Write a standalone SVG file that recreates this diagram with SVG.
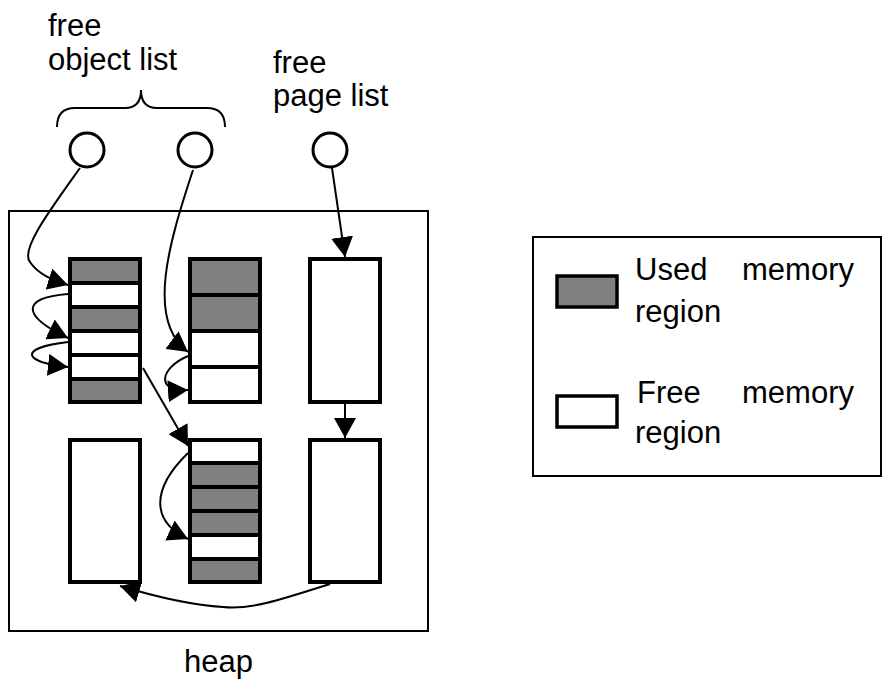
<svg xmlns="http://www.w3.org/2000/svg" width="883" height="682" viewBox="0 0 883 682">
<defs>
<style>
text{font-family:"Liberation Sans",Arial,sans-serif;font-size:31px;fill:#000}
.r{text-anchor:end}
.u{fill:#808080;stroke:#000;stroke-width:4}
.f{fill:#fff;stroke:#000;stroke-width:4}
.c{fill:#fff;stroke:#000;stroke-width:3}
.box{fill:none;stroke:#000;stroke-width:2}
.e{fill:none;stroke:#000;stroke-width:2;marker-end:url(#ah)}
</style>
<marker id="ah" markerUnits="userSpaceOnUse" markerWidth="22" markerHeight="22" viewBox="0 0 22 22" refX="20" refY="11" orient="auto">
<path d="M0,0 L20,11 L0,22 z" fill="#000"/>
</marker>
</defs>
<rect width="883" height="682" fill="#fff"/>
<g id="heap">
<rect class="box" x="9" y="211" width="419" height="420"/>
<text x="184" y="672">heap</text>
</g>
<g id="labels">
<text x="48" y="36">free</text>
<text x="48" y="70">object list</text>
<text x="273" y="73">free</text>
<text x="273" y="106">page list</text>
<path class="box" d="M57,127 Q57,108 75,108 L125,108 Q141,108 141,90 Q141,108 157,108 L207,108 Q225,108 225,127"/>
</g>
<g id="list1"><circle class="c" cx="87" cy="150" r="17"/></g>
<g id="list2"><circle class="c" cx="195" cy="150" r="17"/></g>
<g id="pagelist"><circle class="c" cx="330" cy="150" r="17"/></g>
<g id="page1">
<rect class="u" x="70" y="259" width="70" height="24"/>
<rect class="f" x="70" y="283" width="70" height="24"/>
<rect class="u" x="70" y="307" width="70" height="24"/>
<rect class="f" x="70" y="331" width="70" height="24"/>
<rect class="f" x="70" y="355" width="70" height="24"/>
<rect class="u" x="70" y="379" width="70" height="23"/>
</g>
<g id="page2">
<rect class="u" x="190" y="259" width="70" height="36"/>
<rect class="u" x="190" y="295" width="70" height="36"/>
<rect class="f" x="190" y="331" width="70" height="36"/>
<rect class="f" x="190" y="367" width="70" height="35"/>
</g>
<g id="page3"><rect class="f" x="310" y="259" width="70" height="143"/></g>
<g id="page4"><rect class="f" x="70" y="440" width="70" height="142"/></g>
<g id="page5">
<rect class="f" x="190" y="440" width="70" height="23"/>
<rect class="u" x="190" y="463" width="70" height="24"/>
<rect class="u" x="190" y="487" width="70" height="24"/>
<rect class="u" x="190" y="511" width="70" height="24"/>
<rect class="f" x="190" y="535" width="70" height="24"/>
<rect class="u" x="190" y="559" width="70" height="23"/>
</g>
<g id="page6"><rect class="f" x="310" y="440" width="70" height="142"/></g>
<g id="connectors">
<path class="e" d="M80,168 C50,210 20,250 30,262 C38,274 52,280 68,285"/>
<path class="e" d="M68,294 C20,298 22,316 68,338"/>
<path class="e" d="M68,342 C18,348 22,362 68,367"/>
<path class="e" d="M193,170 C170,240 145,320 188,352"/>
<path class="e" d="M188,356 C160,368 155,392 188,390"/>
<path class="e" d="M143,368 L188,446"/>
<path class="e" d="M188,453 C150,490 152,522 188,539"/>
<path class="e" d="M332,168 L345,257"/>
<path class="e" d="M345,403 L345,438"/>
<path class="e" d="M330,584 C280,600 250,610 223,607 C190,605 150,595 120,586"/>
</g>
<g id="legend">
<rect class="box" x="533" y="237" width="348" height="239"/>
<rect x="557" y="276" width="60" height="31" fill="#808080" stroke="#000" stroke-width="3.5"/>
<rect x="557" y="396" width="60" height="31" fill="#fff" stroke="#000" stroke-width="3.5"/>
<text x="635" y="280">Used</text>
<text class="r" x="854" y="280">memory</text>
<text x="635" y="322">region</text>
<text x="637" y="403">Free</text>
<text class="r" x="854" y="403">memory</text>
<text x="635" y="443">region</text>
</g>
</svg>
